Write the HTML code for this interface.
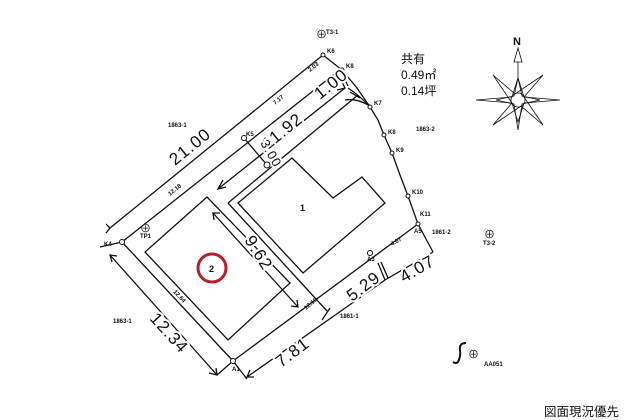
<!DOCTYPE html>
<html><head><meta charset="utf-8"><style>
html,body{margin:0;padding:0;background:#fff;width:628px;height:420px;overflow:hidden}
svg{display:block}
text{font-family:"Liberation Sans","Noto Sans CJK JP",sans-serif;fill:#111}
.s{font-size:6px;font-weight:bold}
.d{font-size:17px;letter-spacing:1px;stroke:#fff;stroke-width:4px;paint-order:stroke}
</style></head><body>
<svg width="628" height="420" viewBox="0 0 628 420" xmlns="http://www.w3.org/2000/svg">
<g stroke="#111" stroke-width="1.3" fill="none" stroke-linejoin="miter">
<line x1="110" y1="228" x2="323" y2="55"/>
<polyline points="106,224 110,228 106,233"/>
<line x1="122" y1="242" x2="342" y2="68"/>
<line x1="323" y1="55" x2="342" y2="70"/>
<polyline points="342,70 357,88 370,107 378,120 384,135 392,153 400,175 408,196 413,210 418,224 433,252"/>
<line x1="218" y1="189" x2="345" y2="88"/>
<polyline points="223,180 218,189 226,187"/>
<polyline points="337,90 345,88 342,82"/>
<line x1="228" y1="203" x2="358" y2="95"/>
<line x1="228" y1="203" x2="327" y2="311"/>
<line x1="340" y1="70" x2="348" y2="86"/>
<line x1="350" y1="92" x2="360" y2="98"/>
<path d="M345,100 Q356,98 368,105"/>
<path d="M348,88 Q360,96 368,105"/>
<line x1="244" y1="138" x2="267" y2="165"/>
<polygon points="238,203 292,158 333,198 362,177 385,203 303,273"/>
<polygon points="207,197 145,252 228,340 290,283"/>
<line x1="213" y1="213" x2="298" y2="307"/>
<polyline points="220,213 213,213 214,220"/>
<polyline points="291,306 298,307 297,300"/>
<line x1="122" y1="242" x2="233" y2="361"/>
<line x1="110" y1="255" x2="217" y2="375"/>
<polyline points="112,262 110,255 117,256"/>
<polyline points="209,373 217,375 216,368"/>
<line x1="100" y1="247" x2="122" y2="242"/>
<line x1="233" y1="361" x2="418" y2="224"/>
<line x1="217" y1="375" x2="233" y2="361"/>
<line x1="247" y1="377" x2="385" y2="280"/>
<polyline points="250,370 247,377 254,377"/>
<line x1="233" y1="361" x2="247" y2="379"/>
<line x1="322" y1="320" x2="330" y2="308"/>
<line x1="385" y1="280" x2="433" y2="252"/>
<line x1="378" y1="263" x2="385" y2="280"/>
<line x1="381" y1="262" x2="388" y2="278"/>
</g>
<g stroke="#111" stroke-width="1" fill="#fff">
<circle cx="122" cy="242" r="2.5"/><circle cx="244" cy="138" r="2.5"/><circle cx="323" cy="55" r="2"/>
<circle cx="342" cy="70" r="2"/><circle cx="370" cy="107" r="2"/><circle cx="384" cy="135" r="2"/>
<circle cx="392" cy="153" r="2"/><circle cx="408" cy="196" r="2"/><circle cx="418" cy="224" r="2"/>
<circle cx="370" cy="253" r="2.5"/><circle cx="233" cy="361" r="2.5"/>
</g>
<text class="d" transform="translate(175,166) rotate(-39)">21.00</text>
<text class="d" transform="translate(268,150) rotate(-39)">11.92</text>
<text class="d" transform="translate(320,100) rotate(-39)">1.00</text>
<text class="d" transform="translate(260,143) rotate(60)" style="font-size:13px">3.00</text>
<circle cx="267" cy="165" r="3" fill="#fff" stroke="#111"/>
<text class="d" transform="translate(244,240) rotate(58)">9.62</text>
<text class="d" transform="translate(149,319) rotate(48)">12.34</text>
<text class="d" transform="translate(281,368) rotate(-37)">7.81</text>
<text class="d" transform="translate(352,302) rotate(-37)">5.29</text>
<text class="d" transform="translate(404,283) rotate(-30)">4.07</text>
<text class="s" transform="translate(170,196) rotate(-39)">12.18</text>
<text class="s" transform="translate(275,105) rotate(-39)">7.17</text>
<text class="s" transform="translate(310,72) rotate(-39)">2.03</text>
<text class="s" transform="translate(173,292) rotate(47)">12.64</text>
<text class="s" transform="translate(306,310) rotate(-40)">12.16</text>
<text class="s" transform="translate(392,246) rotate(-30)">4.07</text>
<text class="s" x="168" y="127">1863-1</text>
<text class="s" x="416" y="131">1863-2</text>
<text class="s" x="432" y="234">1861-2</text>
<text class="s" x="113" y="323">1863-1</text>
<text class="s" x="340" y="318">1861-1</text>
<text class="s" x="104" y="246">K4</text><text class="s" x="246" y="136">K5</text>
<text class="s" x="327" y="53">K6</text><text class="s" x="346" y="68">K8</text>
<text class="s" x="374" y="105">K7</text><text class="s" x="388" y="134">K8</text>
<text class="s" x="396" y="152">K9</text><text class="s" x="412" y="194">K10</text>
<text class="s" x="420" y="216">K11</text><text class="s" x="414" y="233">A5</text>
<text class="s" x="367" y="261">A3</text><text class="s" x="232" y="371">A1</text>
<text style="font-size:11px" x="140" y="232">⊕</text><text class="s" x="140" y="238">TP1</text>
<text style="font-size:11px" x="316" y="38">⊕</text><text class="s" x="326" y="34">T3-1</text>
<text style="font-size:11px" x="484" y="238">⊕</text><text class="s" x="483" y="245">T3-2</text>
<text x="300" y="211" style="font-size:9px;font-weight:bold">1</text>
<circle cx="212" cy="268" r="14" fill="none" stroke="#b51f2a" stroke-width="3"/>
<text x="209" y="272" style="font-size:9px;font-weight:bold">2</text>
<text x="401" y="63" style="font-size:12px">共有</text>
<text x="401" y="79" style="font-size:12px">0.49㎡</text>
<text x="401" y="95" style="font-size:12px">0.14坪</text>
<g stroke="#111" stroke-width="0.8" fill="none" transform="translate(518,100)">
<text x="-5" y="-55" style="font-size:11px;font-weight:bold;stroke:none">N</text>
<polygon points="0,-52 -4,-38 4,-38" />
<line x1="0" y1="-38" x2="0" y2="-20"/>
<polygon points="0,-22 4,-4 22,0 4,4 0,30 -4,4 -22,0 -4,-4"/>
<polygon points="-42,0 -6,-3 0,-22 6,-3 42,0 6,3 0,22 -6,3"/>
<polygon points="-25,-25 -3,-6 25,-25 6,-3 25,25 3,6 -25,25 -6,3"/>
<circle cx="0" cy="0" r="7"/>
</g>
<path d="M466,343 Q459,343 460,350 Q461,356 458,362 Q456,364 453,362" stroke="#111" stroke-width="2" fill="none"/>
<text x="468" y="358" style="font-size:11px">⊕</text>
<text class="s" x="484" y="366">AA051</text>
<text x="544" y="416" style="font-size:12.5px">図面現況優先</text>
</svg>
</body></html>
